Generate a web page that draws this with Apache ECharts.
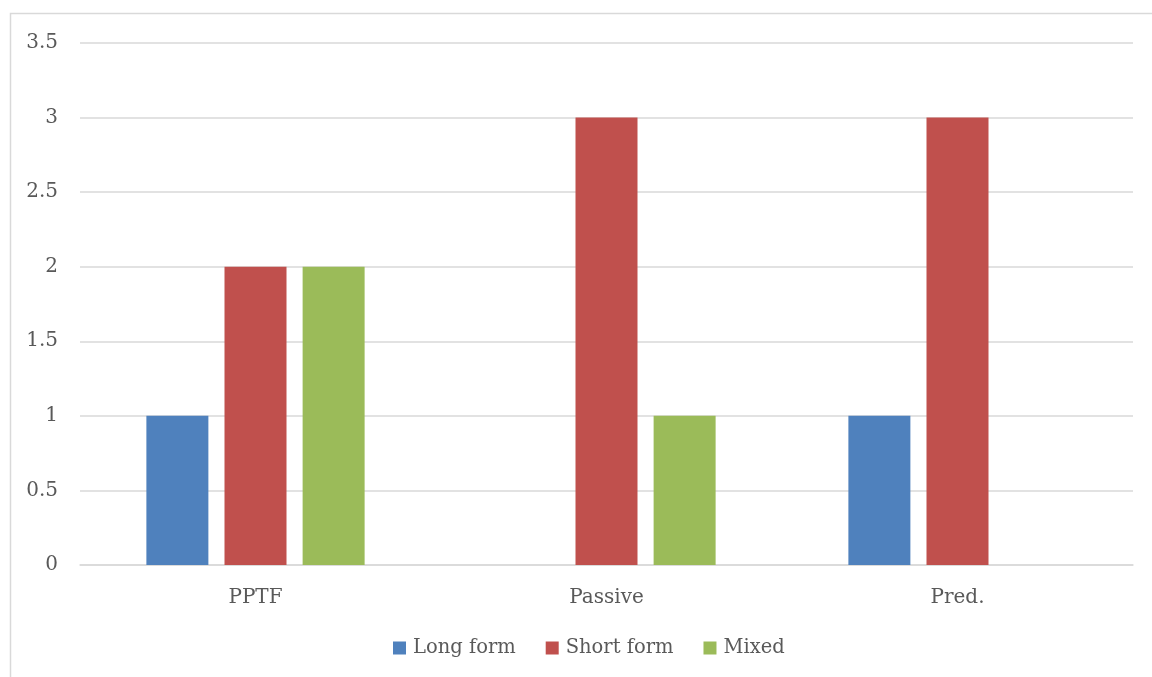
<!DOCTYPE html>
<html>
<head>
<meta charset="utf-8">
<script src="https://cdn.jsdelivr.net/npm/echarts@6/dist/echarts.min.js"></script>
<style>
  html, body { margin: 0; padding: 0; background: #fff; }
  #chart { width: 1152px; height: 677px; }
</style>
</head>
<body>
<div id="chart"></div>
<script>
// Categories and counts per form type
const categories = ['PPTF', 'Passive', 'Pred.'];
const longForm = [1, 0, 1];
const shortForm = [2, 3, 3];
const mixed = [2, 1, 0];
const seriesNames = ['Long form', 'Short form', 'Mixed'];
const colors = ['#4F81BD', '#C0504D', '#9BBB59'];

const fontFamily = '"DejaVu Serif", serif';
const textColor = '#595959';

const chart = echarts.init(document.getElementById('chart'));
chart.setOption({
  animation: false,
  textStyle: { fontFamily: fontFamily },
  graphic: [{
    type: 'rect',
    shape: { x: 10.5, y: 13.5, width: 1160, height: 680 },
    style: { fill: 'none', stroke: '#D9D9D9', lineWidth: 1.5 },
    silent: true
  }],
  grid: { left: 80, right: 19, top: 43, bottom: 112 },
  legend: {
    bottom: 19,
    left: 393,
    padding: 0,
    itemWidth: 13,
    itemHeight: 13,
    itemGap: 30,
    icon: 'rect',
    textStyle: { fontFamily: fontFamily, fontSize: 19.5, color: textColor, padding: [0, 0, 0, 2] },
    data: seriesNames
  },
  xAxis: {
    type: 'category',
    data: categories,
    axisTick: { show: false },
    axisLine: { lineStyle: { color: '#D9D9D9', width: 1.5 } },
    axisLabel: { fontFamily: fontFamily, fontSize: 20, color: textColor, margin: 23 }
  },
  yAxis: {
    type: 'value',
    min: 0,
    max: 3.5,
    interval: 0.5,
    axisLine: { show: false },
    axisTick: { show: false },
    splitLine: { lineStyle: { color: '#D9D9D9', width: 1.5 } },
    axisLabel: { fontFamily: fontFamily, fontSize: 20, color: textColor, margin: 22 }
  },
  series: [
    { name: seriesNames[0], type: 'bar', data: longForm, itemStyle: { color: colors[0] }, barWidth: 62, barGap: '26%' },
    { name: seriesNames[1], type: 'bar', data: shortForm, itemStyle: { color: colors[1] }, barWidth: 62, barGap: '26%' },
    { name: seriesNames[2], type: 'bar', data: mixed, itemStyle: { color: colors[2] }, barWidth: 62, barGap: '26%' }
  ]
});
</script>
</body>
</html>
